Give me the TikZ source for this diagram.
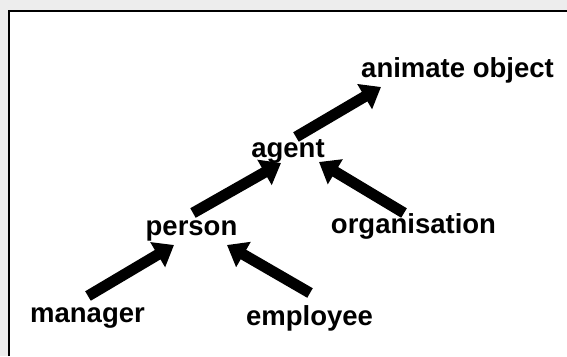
\documentclass[tikz,border=0pt]{standalone}
\usepackage{fontspec}
\setmainfont{Liberation Sans}
\usetikzlibrary{arrows.meta}
\begin{document}
\begin{tikzpicture}[x=1pt,y=-1pt,
  label/.style={font=\fontsize{27.5}{30}\selectfont\bfseries, inner sep=0pt, anchor=base},
  isa/.style={line width=11pt, -{Triangle[length=19pt,width=28pt]}}]
  % canvas and framed panel
  \useasboundingbox (0,0) rectangle (567,356);
  \fill[black!7] (0,0) rectangle (567,356);
  \fill[white] (9,11) rectangle (567,356);
  \draw[line width=2pt] (9,356) -- (9,11) -- (567,11);

  % concept labels
  \node[label] (anim) at (457.5,77) {animate object};
  \node[label] (agent) at (288,157) {agent};
  \node[label] (person) at (191.5,235) {person};
  \node[label] (org) at (413.5,233) {organisation};
  \node[label] (mgr) at (87.5,322) {manager};
  \node[label] (emp) at (309.5,325) {employee};

  % arrow ends
  \coordinate (mgr-t) at (88,296);   \coordinate (person-in1) at (174,245);
  \coordinate (emp-t) at (310,293);  \coordinate (person-in2) at (227,245);
  \coordinate (person-t) at (193,213); \coordinate (agent-in1) at (281,163);
  \coordinate (org-t) at (404,213);  \coordinate (agent-in2) at (319,162);
  \coordinate (agent-t) at (296,137); \coordinate (anim-in) at (381,87);

  % is-a links
  \draw[isa] (mgr-t) -- (person-in1);
  \draw[isa] (emp-t) -- (person-in2);
  \draw[isa] (person-t) -- (agent-in1);
  \draw[isa] (org-t) -- (agent-in2);
  \draw[isa] (agent-t) -- (anim-in);
\end{tikzpicture}
\end{document}
